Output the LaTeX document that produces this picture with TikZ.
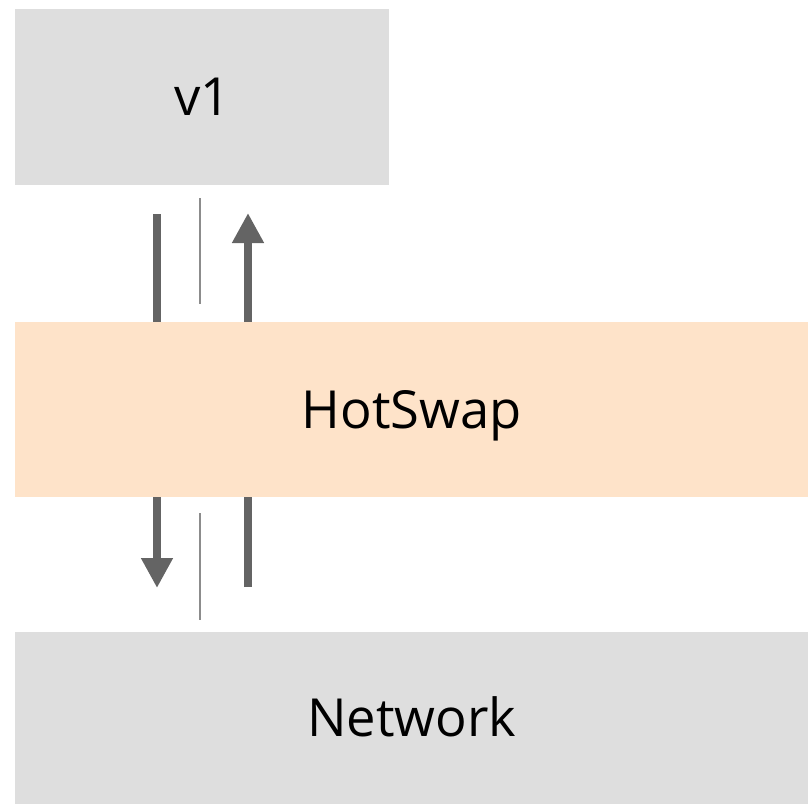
\documentclass[tikz,border=0pt]{standalone}
\usepackage{fontspec}
\setmainfont{Open Sans}
\usetikzlibrary{arrows.meta}

\definecolor{layergray}{HTML}{DEDEDE}
\definecolor{swappeach}{HTML}{FEE3C9}
\definecolor{flowdark}{HTML}{646464}
\definecolor{flowlight}{HTML}{8C8C8C}

\tikzset{
  layer/.style={draw=none, rectangle, inner sep=0pt, anchor=north west,
    font=\fontsize{52.5}{60}\selectfont, text height=37.5pt, text depth=0pt},
  flow/.style={draw=flowdark, line width=8pt},
  flowtip/.style={flow, -{Triangle[length=30pt, width=30pt]}},
  divider/.style={draw=flowlight, line width=2.4pt},
}

\begin{document}
\begin{tikzpicture}[x=1pt, y=-1pt]
  \useasboundingbox (0,0) rectangle (808,804);

  % stacked layers
  \node[layer, fill=layergray, minimum width=374pt, minimum height=176pt] (v1) at (15,9) {v1};
  \node[layer, fill=swappeach, minimum width=793pt, minimum height=175pt] (hot) at (15,322) {HotSwap};
  \node[layer, fill=layergray, minimum width=793pt, minimum height=172pt] (net) at (15,632) {Network};

  % free ends of the flows
  \coordinate (downtop) at (157,214);
  \coordinate (downend) at (157,588);
  \coordinate (uptip) at (248,213);
  \coordinate (upstart) at (248,587);
  \coordinate (divtopA) at (200,198);
  \coordinate (divtopB) at (200,304);
  \coordinate (divbotA) at (200,513);
  \coordinate (divbotB) at (200,620);

  % request going down through the swap layer
  \draw[flow] (downtop) -- (downtop |- hot.north);
  \draw[flowtip] (hot.south -| downend) -- (downend);

  % response coming back up
  \draw[flow] (upstart) -- (upstart |- hot.south);
  \draw[flowtip] (hot.north -| uptip) -- (uptip);

  % thin separators between the two directions
  \draw[divider] (divtopA) -- (divtopB);
  \draw[divider] (divbotA) -- (divbotB);
\end{tikzpicture}
\end{document}
